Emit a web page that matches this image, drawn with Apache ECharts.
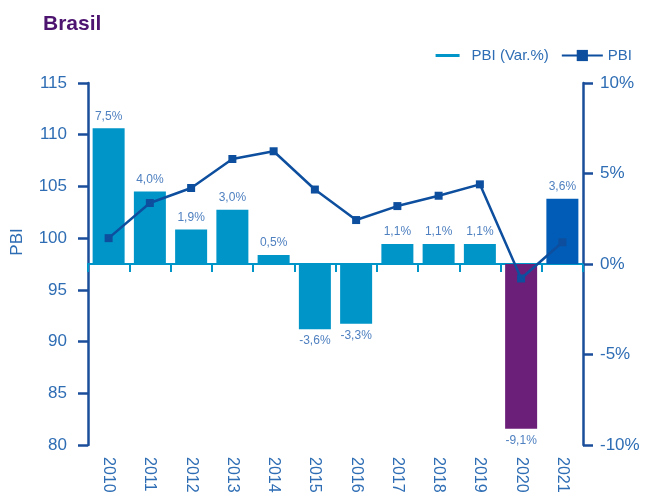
<!DOCTYPE html>
<html>
<head>
<meta charset="utf-8">
<script src="https://cdn.jsdelivr.net/npm/echarts@6/dist/echarts.min.js"></script>
<style>html,body{margin:0;padding:0;background:#fff}#c{width:651px;height:497px}</style>
</head>
<body>
<div id="c"></div>
<script>
var years = ['2010','2011','2012','2013','2014','2015','2016','2017','2018','2019','2020','2021'];
var pbiVar = [7.5, 4.0, 1.9, 3.0, 0.5, -3.6, -3.3, 1.1, 1.1, 1.1, -9.1, 3.6];
var pbiLevel = [100.0, 103.4, 104.85, 107.65, 108.4, 104.7, 101.75, 103.1, 104.1, 105.2, 96.1, 99.6];
var leftTicks = [80, 85, 90, 95, 100, 105, 110, 115];
var rightTicks = [-10, -5, 0, 5, 10];

var FONT = 'Liberation Sans';
var AXIS_BLUE = '#1a4e9a';
var LABEL_BLUE = '#2e6db4';
var BAR_BLUE = '#0095c8';
var PURPLE = '#6b1f78';
var DARK_BLUE = '#005cb6';
var LINE_BLUE = '#0d4f9e';

var chart = echarts.init(document.getElementById('c'));
chart.setOption({
  animation: false,
  textStyle: { fontFamily: FONT },
  title: {
    text: 'Brasil', left: 38, top: 9,
    textStyle: { fontFamily: FONT, fontWeight: 'bold', fontSize: 21, color: '#4d1470' }
  },
  legend: {
    right: 14, top: 43, itemGap: 12, itemWidth: 41, itemHeight: 14,
    textStyle: { fontFamily: FONT, fontSize: 15, color: LABEL_BLUE },
    data: [
      { name: 'PBI (Var.%)', icon: 'path://M0,0 M41,14 M10,5.5 L34,5.5 L34,8.5 L10,8.5 Z', itemStyle: { color: BAR_BLUE } },
      { name: 'PBI' }
    ]
  },
  grid: { left: 88, right: 68, top: 83, bottom: 52 },
  xAxis: [
    {
      type: 'category', data: years, position: 'bottom',
      axisLine: { onZero: true, onZeroAxisIndex: 1, lineStyle: { color: BAR_BLUE, width: 2 } },
      axisTick: { show: true, length: 8, lineStyle: { color: BAR_BLUE, width: 2 } },
      axisLabel: { show: false }
    },
    {
      type: 'category', data: years, position: 'bottom',
      axisLine: { show: false }, axisTick: { show: false },
      axisLabel: { rotate: -90, margin: 12, fontSize: 16, color: LABEL_BLUE, fontFamily: FONT, interval: 0 }
    }
  ],
  yAxis: [
    {
      type: 'value', min: leftTicks[0], max: leftTicks[leftTicks.length - 1], interval: 5,
      name: 'PBI', nameLocation: 'middle', nameGap: 62,
      nameTextStyle: { fontSize: 17, color: LABEL_BLUE, fontFamily: FONT, padding: [0, 0, 0, 44] },
      axisLine: { show: true, lineStyle: { color: AXIS_BLUE, width: 2.5 } },
      axisTick: { show: true, length: 10, lineStyle: { color: AXIS_BLUE, width: 2.5 } },
      axisLabel: { margin: 21, fontSize: 17, color: LABEL_BLUE, fontFamily: FONT },
      splitLine: { show: false }
    },
    {
      type: 'value', min: rightTicks[0], max: rightTicks[rightTicks.length - 1], interval: 5,
      position: 'right',
      axisLine: { show: true, lineStyle: { color: AXIS_BLUE, width: 2.5 } },
      axisTick: { show: true, length: 10, lineStyle: { color: AXIS_BLUE, width: 2.5 } },
      axisLabel: { margin: 17, fontSize: 17, color: LABEL_BLUE, fontFamily: FONT, formatter: function (v) { return v + '%'; } },
      splitLine: { show: false }
    }
  ],
  series: [
    {
      name: 'PBI (Var.%)', type: 'bar', xAxisIndex: 0, yAxisIndex: 1,
      barWidth: 32,
      data: pbiVar.map(function (v) {
        return { value: v, label: { position: v >= 0 ? 'top' : 'bottom' } };
      }),
      itemStyle: {
        color: function (p) {
          if (p.name === '2020') return PURPLE;
          if (p.name === '2021') return DARK_BLUE;
          return BAR_BLUE;
        }
      },
      label: {
        show: true, distance: 6, fontSize: 12, color: '#4f80c0', fontFamily: FONT,
        formatter: function (p) { return p.value.toFixed(1).replace('.', ',') + '%'; }
      },
      z: 2
    },
    {
      name: 'PBI', type: 'line', xAxisIndex: 0, yAxisIndex: 0,
      data: pbiLevel,
      symbol: 'rect', symbolSize: 8,
      lineStyle: { color: LINE_BLUE, width: 2.5 },
      itemStyle: { color: LINE_BLUE },
      z: 3
    }
  ]
});
</script>
</body>
</html>
